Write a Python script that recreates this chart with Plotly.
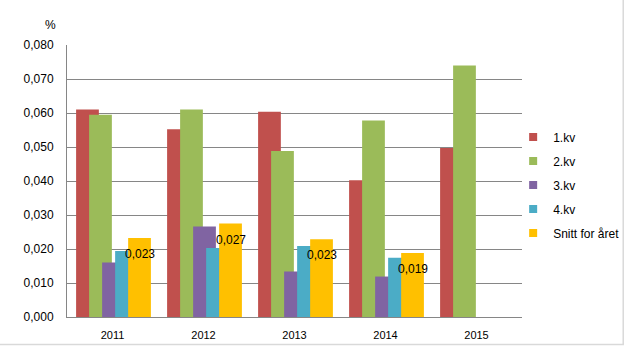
import plotly.graph_objects as go

years = ["2011", "2012", "2013", "2014", "2015"]
series_names = ["1.kv", "2.kv", "3.kv", "4.kv", "Snitt for året"]
q1 = [0.0610, 0.0552, 0.0604, 0.0402, 0.0497]
q2 = [0.0595, 0.0610, 0.0488, 0.0578, 0.0740]
q3 = [0.0160, 0.0266, 0.0134, 0.0119, None]
q4 = [0.0194, 0.0203, 0.0209, 0.0174, None]
avg = [0.0232, 0.0275, 0.0229, 0.0188, None]
avg_labels = ["0,023", "0,027", "0,023", "0,019", None]
yticks = [0.0, 0.01, 0.02, 0.03, 0.04, 0.05, 0.06, 0.07, 0.08]

colors = ["#C0504D", "#9BBB59", "#8064A2", "#4BACC6", "#FFC000"]
all_series = [q1, q2, q3, q4, avg]

W, H = 637, 353
ml, mr, mt, mb = 67, 107, 45, 31
pw = W - ml - mr
ph = H - mt - mb

bar_w = 0.25
step = 0.143
start = -0.40

fig = go.Figure()
xs = list(range(len(years)))
for i, (name, vals, c) in enumerate(zip(series_names, all_series, colors)):
    fig.add_trace(go.Bar(
        x=xs, y=vals, name=name, marker=dict(color=c, line=dict(width=0)),
        width=bar_w, offset=start + i * step, legendgroup=name, showlegend=False,
    ))
    # legend entry with small square marker
    fig.add_trace(go.Scatter(
        x=[None], y=[None], mode="markers", name=name, legendgroup=name,
        marker=dict(symbol="square", size=8, color=c), showlegend=True,
    ))

# data labels for yearly average
for k, (v, lab) in enumerate(zip(avg, avg_labels)):
    if v is None:
        continue
    fig.add_annotation(
        x=k + start + 4 * step + bar_w / 2, y=v, text=lab, showarrow=False,
        yanchor="top", yshift=-7, xanchor="center",
        font=dict(size=12, color="black", family="Liberation Sans"),
    )

fig.add_annotation(
    xref="paper", yref="paper", x=(43 - ml) / pw, y=(H - mb - 15) / ph,
    text="%", showarrow=False, font=dict(size=12, color="black", family="Liberation Sans"),
)

# outer chart border
fig.add_shape(
    type="rect", xref="paper", yref="paper",
    x0=(-2 - ml) / pw, x1=(633 - ml) / pw,
    y0=(H - mb - 350) / ph, y1=(H - mb + 3) / ph,
    line=dict(color="#D9D9D9", width=1.5), fillcolor="rgba(0,0,0,0)", layer="below",
)

fig.update_layout(
    width=W, height=H,
    margin=dict(l=ml, r=mr, t=mt, b=mb, pad=0),
    barmode="overlay",
    separators=", ",
    plot_bgcolor="white", paper_bgcolor="white",
    font=dict(family="Liberation Sans", size=11, color="black"),
    showlegend=True,
    legend=dict(
        x=(521 - ml) / pw, y=(H - mb - 124) / ph, xanchor="left", yanchor="top",
        font=dict(size=12, color="black"), traceorder="grouped",
        tracegroupgap=5, bgcolor="rgba(0,0,0,0)", itemwidth=30,
    ),
    xaxis=dict(
        tickmode="array", tickvals=xs, ticktext=years, range=[-0.5, 4.5],
        showgrid=False, showline=True, linecolor="#868686", linewidth=1,
        ticks="outside", ticklen=8, tickcolor="rgba(0,0,0,0)",
        tickfont=dict(size=11), zeroline=False,
    ),
    yaxis=dict(
        range=[0, 0.08], tickvals=yticks, tickformat=".3f",
        showgrid=True, gridcolor="#868686", gridwidth=1,
        showline=True, linecolor="#868686", linewidth=1,
        ticks="outside", ticklen=10, tickcolor="rgba(0,0,0,0)",
        tickfont=dict(size=12), zeroline=False,
    ),
)

fig.write_html("out.html")
